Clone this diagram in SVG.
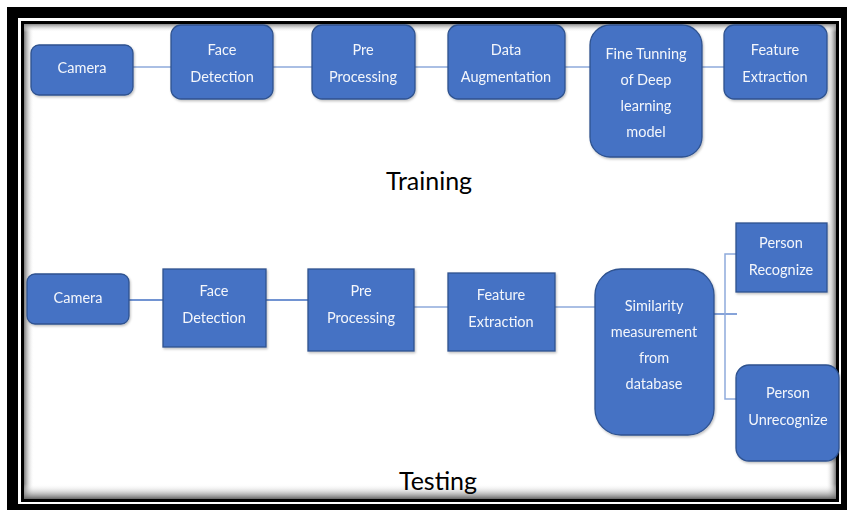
<svg xmlns="http://www.w3.org/2000/svg" width="847" height="510" viewBox="0 0 847 510">
<defs>
<style>
.box{fill:#4472c4;stroke:#2f528f;stroke-width:1.3}
.lbl{font-family:Lato,"Open Sans",sans-serif;font-size:14.5px;fill:#f4f6fb;text-anchor:middle}
.title{font-family:Lato,"Open Sans",sans-serif;font-size:25px;fill:#000;text-anchor:middle}
.ln{fill:none;stroke:#8eaadb;stroke-width:1.5}
.ln2{fill:none;stroke:#4472c4;stroke-width:1.3}
</style>
<linearGradient id="gl" x1="0" y1="0" x2="1" y2="0"><stop offset="0" stop-color="#777"/><stop offset="1" stop-color="#fff" stop-opacity="0"/></linearGradient>
<linearGradient id="gr" x1="1" y1="0" x2="0" y2="0"><stop offset="0" stop-color="#777"/><stop offset="1" stop-color="#fff" stop-opacity="0"/></linearGradient>
<linearGradient id="gt" x1="0" y1="0" x2="0" y2="1"><stop offset="0" stop-color="#888"/><stop offset="1" stop-color="#fff" stop-opacity="0"/></linearGradient>
<linearGradient id="gb" x1="0" y1="1" x2="0" y2="0"><stop offset="0" stop-color="#666"/><stop offset="1" stop-color="#fff" stop-opacity="0"/></linearGradient>
<filter id="sh" x="-10%" y="-10%" width="130%" height="130%"><feDropShadow dx="1" dy="1.5" stdDeviation="1" flood-color="#000" flood-opacity="0.25"/></filter>
</defs>
<rect x="0" y="0" width="847" height="510" fill="#fff"/>
<g id="frame">
<rect x="7" y="7" width="840" height="503" fill="#000"/>
<rect x="18" y="18" width="823" height="486" fill="#fff"/>
<rect x="21" y="21" width="818" height="481" fill="#000"/>
<rect x="24" y="24" width="812" height="475" fill="#fff"/>
<rect x="24" y="24" width="10" height="475" fill="url(#gl)"/>
<rect x="826" y="24" width="10" height="475" fill="url(#gr)"/>
<rect x="24" y="24" width="812" height="8" fill="url(#gt)"/>
<rect x="24" y="484" width="812" height="15" fill="url(#gb)"/>
</g>
<g id="connectors">
<path class="ln" d="M133 67H171M273 67H312M415 67H448M565 67H590M702 67H724"/>
<path class="ln2" d="M129 300H163M266 300H308"/>
<path class="ln" d="M414 307H448M555 307H595"/>
<path class="ln2" d="M714 314H737"/>
<path class="ln" d="M736 254H725V399H736"/>
</g>
<g id="training-label"><text class="title" x="429" y="190">Training</text></g>
<g id="testing-label"><text class="title" x="438" y="490">Testing</text></g>
<g id="t-camera" filter="url(#sh)"><rect class="box" x="31" y="45" width="102" height="50" rx="8"/><text class="lbl" x="82" y="73">Camera</text></g>
<g id="t-face" filter="url(#sh)"><rect class="box" x="171" y="25" width="102" height="74" rx="10"/><text class="lbl" x="222" y="55">Face</text><text class="lbl" x="222" y="82">Detection</text></g>
<g id="t-pre" filter="url(#sh)"><rect class="box" x="312" y="25" width="103" height="74" rx="10"/><text class="lbl" x="363" y="55">Pre</text><text class="lbl" x="363" y="82">Processing</text></g>
<g id="t-data" filter="url(#sh)"><rect class="box" x="448" y="25" width="117" height="74" rx="10"/><text class="lbl" x="506" y="55">Data</text><text class="lbl" x="506" y="82">Augmentation</text></g>
<g id="t-fine" filter="url(#sh)"><rect class="box" x="590" y="25" width="112" height="132" rx="20"/><text class="lbl" x="646" y="59">Fine Tunning</text><text class="lbl" x="646" y="85">of Deep</text><text class="lbl" x="646" y="111">learning</text><text class="lbl" x="646" y="137">model</text></g>
<g id="t-feature" filter="url(#sh)"><rect class="box" x="724" y="25" width="103" height="74" rx="10"/><text class="lbl" x="775" y="55">Feature</text><text class="lbl" x="775" y="82">Extraction</text></g>
<g id="s-camera" filter="url(#sh)"><rect class="box" x="27" y="274" width="102" height="50" rx="8"/><text class="lbl" x="78" y="303">Camera</text></g>
<g id="s-face" filter="url(#sh)"><rect class="box" x="163" y="269" width="103" height="78"/><text class="lbl" x="214" y="296">Face</text><text class="lbl" x="214" y="323">Detection</text></g>
<g id="s-pre" filter="url(#sh)"><rect class="box" x="308" y="269" width="106" height="82"/><text class="lbl" x="361" y="296">Pre</text><text class="lbl" x="361" y="323">Processing</text></g>
<g id="s-feature" filter="url(#sh)"><rect class="box" x="448" y="273" width="107" height="78"/><text class="lbl" x="501" y="300">Feature</text><text class="lbl" x="501" y="327">Extraction</text></g>
<g id="s-sim" filter="url(#sh)"><rect class="box" x="595" y="269" width="119" height="166" rx="26"/><text class="lbl" x="654" y="311">Similarity</text><text class="lbl" x="654" y="337">measurement</text><text class="lbl" x="654" y="363">from</text><text class="lbl" x="654" y="389">database</text></g>
<g id="s-recog" filter="url(#sh)"><rect class="box" x="736" y="223" width="91" height="69"/><text class="lbl" x="781" y="248">Person</text><text class="lbl" x="781" y="275">Recognize</text></g>
<g id="s-unrecog" filter="url(#sh)"><rect class="box" x="736" y="365" width="103" height="96" rx="13"/><text class="lbl" x="788" y="398">Person</text><text class="lbl" x="788" y="425">Unrecognize</text></g>
</svg>
